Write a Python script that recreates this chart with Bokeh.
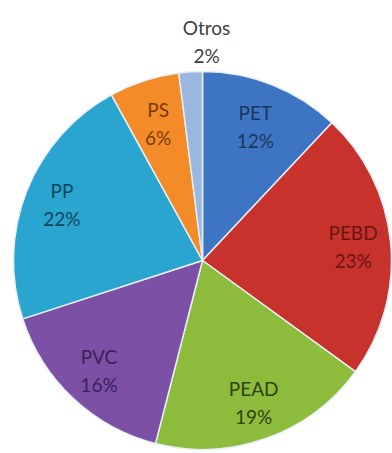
import math
from bokeh.plotting import figure
from bokeh.models import ColumnDataSource, Range1d
from bokeh.core.properties import value
from bokeh.embed import file_html
from bokeh.resources import INLINE

categories = ["PET", "PEBD", "PEAD", "PVC", "PP", "PS", "Otros"]
percentages = [12, 23, 19, 16, 22, 6, 2]
colors = ["#3d75c2", "#c8322d", "#8dbb3b", "#7b50a5", "#2aa5d0", "#f38b28", "#9ab7e2"]
label_colors = ["#1b3560", "#6b1512", "#2f4412", "#3a2158", "#10465a", "#7a3a08", "#404040"]

W, H = 392, 453
cx, cy, R = 202, H - 260, 189

total = sum(percentages)
starts, ends, lx, ly, names, pcts = [], [], [], [], [], []
cum = 0.0
for cat, v in zip(categories, percentages):
    a0 = math.pi / 2 - 2 * math.pi * cum / total
    cum += v
    a1 = math.pi / 2 - 2 * math.pi * cum / total
    starts.append(a0)
    ends.append(a1)
    mid = (a0 + a1) / 2
    outside = v < 4
    f = 1.16 if outside else (0.76 if v < 15 else 0.80)
    lx.append(cx + 4 if outside else cx + f * R * math.cos(mid))
    ly.append(cy + f * R * math.sin(mid))
    names.append(cat)
    pcts.append(f"{v}%")

src = ColumnDataSource(dict(start=starts, end=ends, color=colors, lx=lx, ly=ly,
                            name=names, pct=pcts, lcolor=label_colors))

p = figure(width=W, height=H, output_backend="svg", toolbar_location=None,
           x_range=Range1d(0, W), y_range=Range1d(0, H), min_border=0)
p.axis.visible = False
p.grid.visible = False
p.outline_line_color = None
p.background_fill_color = "white"

p.wedge(x=cx, y=cy, radius=R, start_angle="start", end_angle="end", direction="clock",
        fill_color="color", line_color="#e8eef5", line_width=1.5, source=src)

for txt, off in (("name", -14), ("pct", 14)):
    p.text(x="lx", y="ly", text=txt, source=src, text_color="lcolor",
           text_font=value("Lato"), text_font_size="19px", text_align="center",
           text_baseline="middle", y_offset=off)

open("out.html", "w").write(file_html(p, INLINE))
